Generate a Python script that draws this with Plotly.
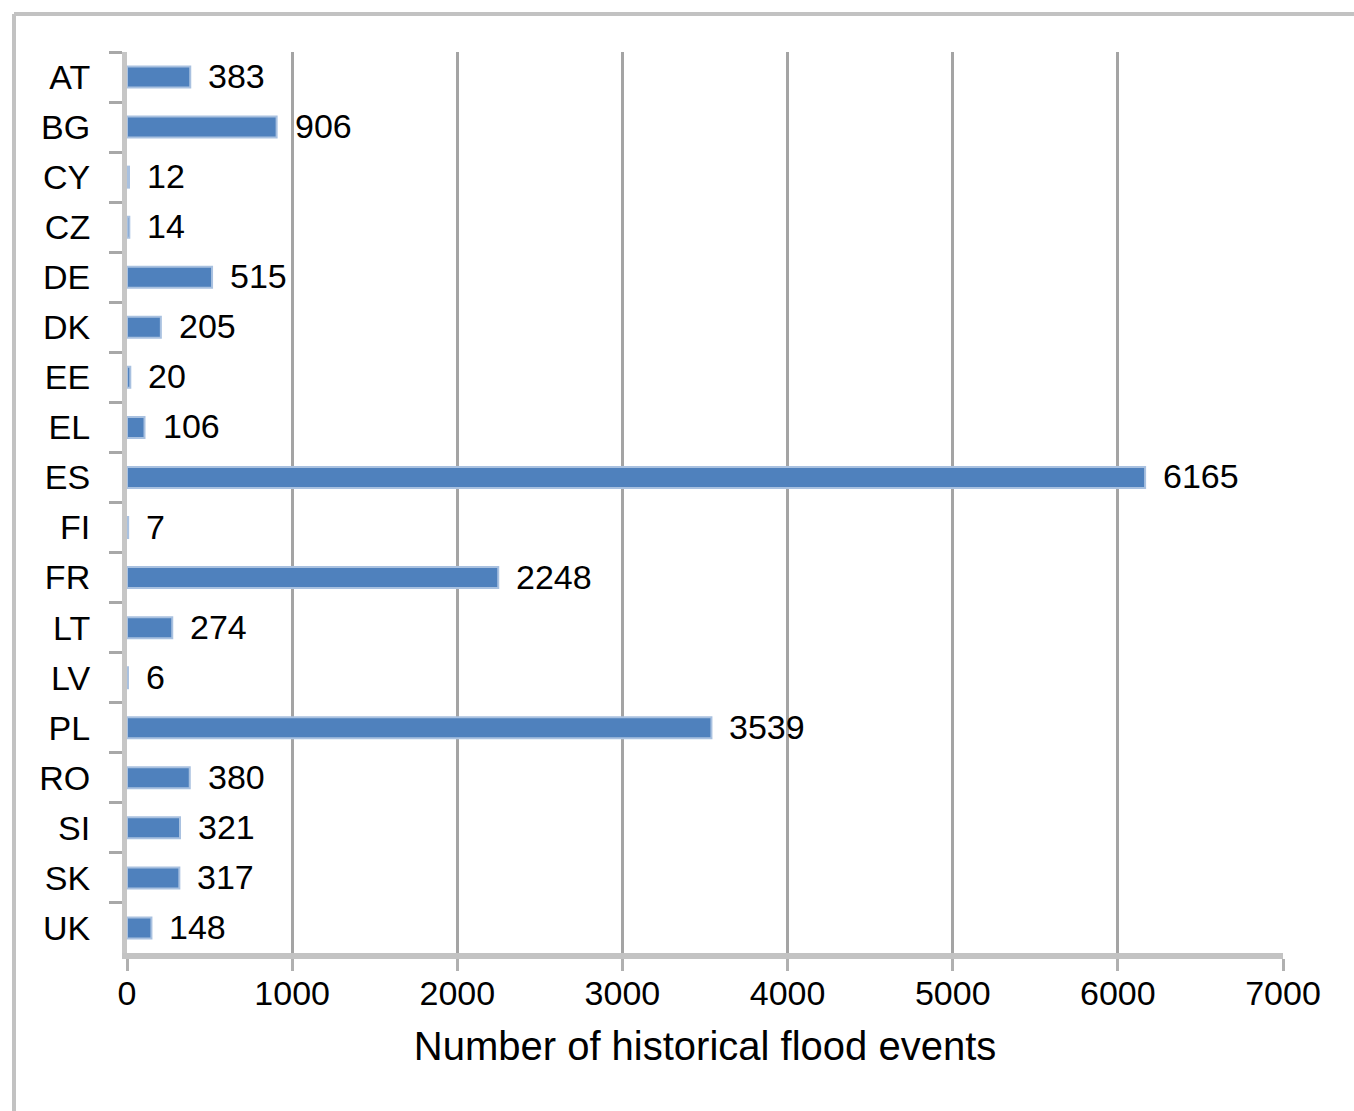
import plotly.graph_objects as go

# Historical flood events per country
countries = ["AT", "BG", "CY", "CZ", "DE", "DK", "EE", "EL", "ES",
             "FI", "FR", "LT", "LV", "PL", "RO", "SI", "SK", "UK"]
events = [383, 906, 12, 14, 515, 205, 20, 106, 6165,
          7, 2248, 274, 6, 3539, 380, 321, 317, 148]
x_ticks = [0, 1000, 2000, 3000, 4000, 5000, 6000, 7000]

W, H = 1354, 1111
ML, MR, MT, MB = 127, 71, 52, 158
plot_w = W - ML - MR
plot_h = H - MT - MB

FONT = "Liberation Sans"
FS = 34

fig = go.Figure(
    go.Bar(
        x=events,
        y=countries,
        orientation="h",
        width=0.42,
        marker=dict(color="#4f81bd", line=dict(color="#a9c1e0", width=2)),
        hoverinfo="x+y",
    )
)

# value labels to the right of each bar
for c, v in zip(countries, events):
    fig.add_annotation(
        x=v, y=c, xref="x", yref="y", text=str(v), showarrow=False,
        xanchor="left", yanchor="middle", xshift=16, yshift=1,
        font=dict(family=FONT, size=FS, color="black"),
    )

# outer frame (top and left edges visible)
fx = (14 - ML) / plot_w
fy = (H - MB - 14) / plot_h
fig.add_shape(type="line", xref="paper", yref="paper", x0=fx, x1=1.2, y0=fy, y1=fy,
              line=dict(color="#c2c2c2", width=4))
fig.add_shape(type="line", xref="paper", yref="paper", x0=fx, x1=fx, y0=fy, y1=-0.3,
              line=dict(color="#c2c2c2", width=4))

fig.update_layout(
    width=W, height=H,
    margin=dict(l=ML, r=MR, t=MT, b=MB, autoexpand=False),
    paper_bgcolor="white", plot_bgcolor="white",
    showlegend=False,
    font=dict(family=FONT, size=FS, color="black"),
    bargap=0.58,
)

fig.update_xaxes(
    range=[0, 7000],
    tickvals=x_ticks,
    ticktext=[str(t) for t in x_ticks],
    showgrid=True, gridcolor="#a4a4a4", gridwidth=3,
    showline=True, linecolor="#c3c3c3", linewidth=6,
    ticks="outside", ticklen=12, tickwidth=3, tickcolor="#b0b0b0",
    ticklabelstandoff=-7,
    zeroline=False,
    tickfont=dict(family=FONT, size=FS),
    title=dict(text="Number of historical flood events",
               font=dict(family=FONT, size=40), standoff=23),
)

fig.update_yaxes(
    type="category",
    categoryorder="array", categoryarray=countries,
    autorange="reversed",
    showgrid=False,
    showline=True, linecolor="#c6c6c6", linewidth=5,
    ticks="outside", tickson="boundaries", ticklen=13, tickwidth=3, tickcolor="#a8a8a8",
    ticklabelstandoff=25,
    tickfont=dict(family=FONT, size=FS),
)

fig.write_html("out.html")
